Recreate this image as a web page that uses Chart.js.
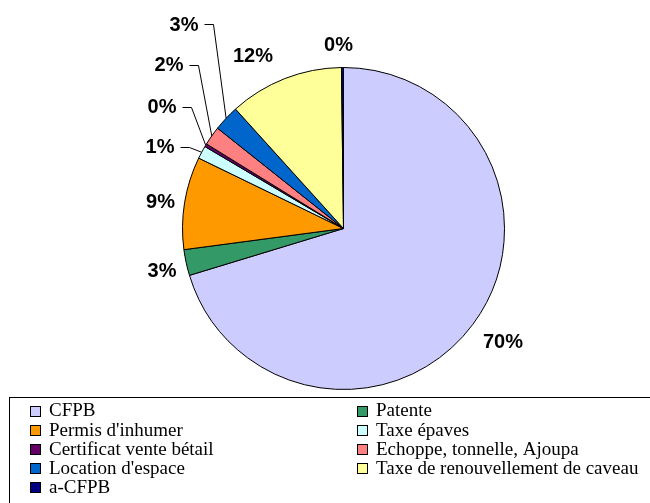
<!DOCTYPE html>
<html>
<head>
<meta charset="utf-8">
<script src="https://cdn.jsdelivr.net/npm/chart.js@4.4.1/dist/chart.umd.min.js"></script>
<style>
  html, body { margin: 0; padding: 0; background: #fff; }
  #wrap { width: 650px; height: 503px; position: relative; overflow: hidden; }
</style>
</head>
<body>
<div id="wrap"><canvas id="pie" width="650" height="503"></canvas></div>
<script>
// ---- data ----
const categories = [
  'CFPB', 'Patente', "Permis d'inhumer", 'Taxe épaves', 'Certificat vente bétail',
  'Echoppe, tonnelle, Ajoupa', "Location d'espace", 'Taxe de renouvellement de caveau', 'a-CFPB'
];
const shares = [70.3, 2.6, 9.3, 1.3, 0.3, 1.9, 2.6, 11.5, 0.2];
const sliceColors = [
  '#CCCCFF', '#339966', '#FF9900', '#CCFFFF', '#660066',
  '#FF8080', '#0066CC', '#FFFF99', '#000080'
];

// label centre relative to pie centre; leader = drawn with a bent line to the slice
const labelSpots = [
  { dx: 159.5, dy: 112.5 },
  { dx: -181.5, dy: 41.5 },
  { dx: -183, dy: -27.5 },
  { dx: -183.5, dy: -82, leader: true },
  { dx: -181.5, dy: -122, leader: true },
  { dx: -174.5, dy: -164, leader: true },
  { dx: -159.5, dy: -204.5, leader: true },
  { dx: -90.5, dy: -173.5 },
  { dx: -5, dy: -184.5 }
];

const pctLabels = {
  id: 'pctLabels',
  afterDatasetsDraw(chart) {
    const ctx = chart.ctx;
    const arcs = chart.getDatasetMeta(0).data;
    const vals = chart.data.datasets[0].data;
    const total = vals.reduce((a, b) => a + b, 0);
    ctx.save();
    ctx.font = 'bold 20px "Liberation Sans", Arial, sans-serif';
    ctx.fillStyle = '#000';
    ctx.strokeStyle = '#000';
    ctx.lineWidth = 1;
    ctx.textAlign = 'center';
    ctx.textBaseline = 'middle';
    arcs.forEach((arc, i) => {
      const spot = labelSpots[i];
      const txt = Math.round(vals[i] / total * 100) + '%';
      const lx = arc.x + spot.dx, ly = arc.y + spot.dy;
      ctx.fillText(txt, lx, ly + 1);
      if (spot.leader) {
        const w = ctx.measureText(txt).width;
        const mid = (arc.startAngle + arc.endAngle) / 2;
        const ex = arc.x + Math.cos(mid) * arc.outerRadius;
        const ey = arc.y + Math.sin(mid) * arc.outerRadius;
        const sx = lx + w / 2 + 6;
        ctx.beginPath();
        ctx.moveTo(Math.round(sx) + 0.5, Math.round(ly) + 0.5);
        ctx.lineTo(Math.round(sx + 9) + 0.5, Math.round(ly) + 0.5);
        ctx.lineTo(ex, ey);
        ctx.stroke();
      }
    });
    ctx.restore();
  }
};

const boxLegend = {
  id: 'boxLegend',
  afterDraw(chart) {
    const ctx = chart.ctx;
    ctx.save();
    ctx.strokeStyle = '#000';
    ctx.lineWidth = 1;
    ctx.strokeRect(9.5, 397.5, 700, 200);
    ctx.font = '19px "Times New Roman", "Liberation Serif", serif';
    ctx.textBaseline = 'middle';
    ctx.textAlign = 'left';
    categories.forEach((name, i) => {
      const col = i % 2, row = Math.floor(i / 2);
      const x = col === 0 ? 30 : 357;
      const y = 410.5 + row * 19.1;
      ctx.fillStyle = sliceColors[i];
      ctx.fillRect(x, Math.round(y - 5), 10, 10);
      ctx.strokeRect(x + 0.5, Math.round(y - 5) + 0.5, 10, 10);
      ctx.fillStyle = '#000';
      ctx.fillText(name, x + 19, y + 1);
    });
    ctx.restore();
  }
};

new Chart(document.getElementById('pie').getContext('2d'), {
  type: 'pie',
  data: {
    labels: categories,
    datasets: [{
      data: shares,
      backgroundColor: sliceColors,
      borderColor: '#000',
      borderWidth: 1
    }]
  },
  options: {
    responsive: false,
    devicePixelRatio: 1,
    animation: false,
    events: [],
    layout: { padding: { left: 182, right: 145, top: 67, bottom: 113 } },
    plugins: { legend: { display: false }, tooltip: { enabled: false } }
  },
  plugins: [pctLabels, boxLegend]
});
</script>
</body>
</html>
